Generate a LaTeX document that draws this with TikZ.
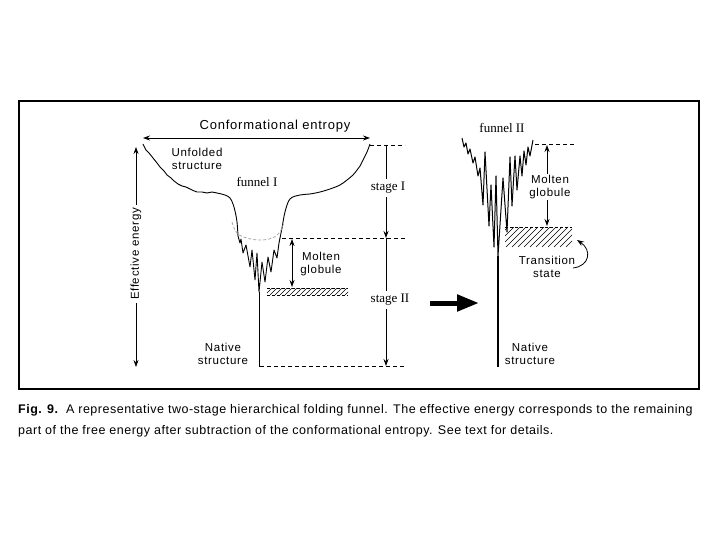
\documentclass[tikz,border=0pt]{standalone}
\usepackage{fontspec}
\usetikzlibrary{arrows.meta}
\newfontfamily\labf[LetterSpace=6]{Liberation Sans}
\newfontfamily\capf[LetterSpace=4]{Liberation Sans}
\newfontfamily\serf{Liberation Serif}
\tikzset{
  lab/.style={font=\labf\fontsize{11.5}{13.5}\selectfont, align=center, inner sep=1pt},
  serlab/.style={font=\serf\fontsize{13}{15}\selectfont, inner sep=1pt},
  arr/.style={-{Stealth[length=7pt,width=5pt]}, line width=0.8pt},
  darr/.style={{Stealth[length=7pt,width=5pt]}-{Stealth[length=7pt,width=5pt]}, line width=0.8pt},
  dline/.style={dash pattern=on 4pt off 3pt, line width=0.7pt},
  curve/.style={line width=0.9pt, line join=round},
  hatch/.style={line width=0.6pt}
}
\begin{document}
\begin{tikzpicture}[x=1pt,y=-1pt]
\useasboundingbox (0,0) rectangle (720,540);
% frame
\draw[line width=1.1pt] (19,101) rectangle (699,389);

% conformational entropy
\coordinate (ceL) at (143,138);
\coordinate (ceR) at (370,138);
\draw[darr] (ceL) -- (ceR);
\node[lab, font=\labf\fontsize{13}{15}\selectfont] (ce) at (275,126) {Conformational entropy};

% effective energy
\coordinate (eeT) at (136,147);
\coordinate (eeB) at (136,367);
\draw[darr] (eeT) -- (eeB);
\node[lab, rotate=90, fill=white, inner sep=3pt] (ee) at (136,254) {Effective energy};

% funnel I
\draw[curve] plot[smooth, tension=0.6] coordinates {(143,144) (146,150) (149,153) (153,158) (157,163) (160,167) (164,171) (167,175) (171,178) (174,181) (178,184) (182,186) (186,187) (190,189) (197,192) (202,192) (207,193) (212,192) (217,193) (225,195) (230,198) (233,204) (235,211) (237,222) (238,236)};
\draw[curve] (238,236) -- (240,243) -- (241,239) -- (243,253) -- (246,245) -- (250,267) -- (252,250) -- (255,280) -- (257,253) -- (259,292)
  -- (262,262) -- (265,282) -- (268,257) -- (271,272) -- (274,250) -- (277,258) -- (279,243) -- (280,238);
\draw[curve] plot[smooth, tension=0.6] coordinates {(280,238) (282,228) (285,212) (290,199) (300,195) (310,194) (320,192) (330,189) (340,185) (347,180) (353,175) (357,170) (360,166) (364,158) (367,152) (370,144)};
\coordinate (f1tip) at (259,292);
\coordinate (f1bot) at (259,367);
\draw[line width=1pt] (f1tip) -- (f1bot);
\draw[gray!70, dash pattern=on 3pt off 2pt, line width=0.8pt] plot[smooth, tension=0.7] coordinates {(232,222) (237,233) (247,238) (260,240) (272,238) (280,232) (284,222)};
\node[lab] (unf) at (197,159) {Unfolded\\structure};
\node[serlab] (fun1) at (257,182) {funnel I};

% molten globule I
\coordinate (mg1T) at (292,239);
\coordinate (mg1B) at (292,287);
\draw[darr] (mg1T) -- (mg1B);
\node[lab] (mg1) at (321,264) {Molten\\globule};
\draw[hatch, dash pattern=on 3pt off 2pt] (267,288) -- (348,288);
\draw[hatch, dash pattern=on 3pt off 2pt] (267,295) -- (348,295);
\begin{scope}
\clip (267,288) rectangle (348,295);
\foreach \i in {0,...,17} { \draw[hatch] (265+\i*5,295) -- (272+\i*5,288); }
\end{scope}

% native structure left
\node[lab] (nat1) at (223,354) {Native\\structure};

% stages
\coordinate (s0a) at (370,145); \coordinate (s0b) at (405,145);
\coordinate (s1a) at (282,238); \coordinate (s1b) at (405,238);
\coordinate (s2a) at (260,366); \coordinate (s2b) at (405,366);
\draw[dline] (s0a) -- (s0b);
\draw[dline] (s1a) -- (s1b);
\draw[dline] (s2a) -- (s2b);
\coordinate (stT) at (386,145);
\coordinate (stM) at (386,238);
\coordinate (stB) at (386,366);
\draw[arr] (stT) -- (stM);
\draw[arr] (stM) -- (stB);
\node[serlab, fill=white, inner sep=3pt] (st1) at (388,188) {stage I};
\node[serlab, fill=white, inner sep=3pt] (st2) at (390,300) {stage II};

% big arrow
\coordinate (baL) at (430,303);
\coordinate (baR) at (479,303);
\draw[line width=5pt, -{Triangle[length=22pt,width=16pt]}] (baL) -- (baR);

% funnel II
\node[serlab] (fun2) at (502,128) {funnel II};
\draw[curve, line width=1pt] (462,138) -- (464,147) -- (466,143) -- (468,154) -- (470,149) -- (473,163) -- (475,157) -- (478,176) -- (480,168) -- (483,205) -- (485,152) -- (489,226) -- (491,185) -- (494,247) -- (496,176) -- (498,256)
  -- (503,178) -- (507,232) -- (510,157) -- (512,206) -- (515,156) -- (517,190) -- (520,156) -- (522,176) -- (524,151) -- (526,165) -- (528,147) -- (530,156) -- (533,140);
\coordinate (f2tip) at (498,256);
\coordinate (f2bot) at (498,367);
\draw[line width=1.1pt] (f2tip) -- (f2bot);
\coordinate (d2a) at (535,144); \coordinate (d2b) at (576,144);
\draw[dline] (d2a) -- (d2b);
\coordinate (mg2T) at (547,145);
\coordinate (mg2B) at (547,226);
\draw[darr] (mg2T) -- (mg2B);
\node[lab, fill=white] (mg2) at (550,187) {Molten\\globule};
% transition state hatch
\draw[hatch, dash pattern=on 3pt off 2pt] (505,227) -- (572,227);
\begin{scope}
\clip (505,227) rectangle (572,247);
\foreach \i in {0,...,16} { \draw[hatch] (488+\i*6,247) -- (508+\i*6,227); }
\end{scope}
\node[lab] (ts) at (547,267) {Transition\\state};
\coordinate (tsA) at (573,268);
\coordinate (tsB) at (577,240);
\draw[arr] (tsA) .. controls (590,266) and (592,250) .. (tsB);
\node[lab] (nat2) at (530,354) {Native\\structure};

% caption
\node[anchor=north west, align=left, inner sep=0pt, font=\capf\fontsize{12.5}{21}\selectfont] (cap) at (18,404)
{{\bfseries Fig. 9.}\ \ A representative two-stage hierarchical folding funnel. The effective energy corresponds to the remaining\\
part of the free energy after subtraction of the conformational entropy. See text for details.};
\end{tikzpicture}
\end{document}
